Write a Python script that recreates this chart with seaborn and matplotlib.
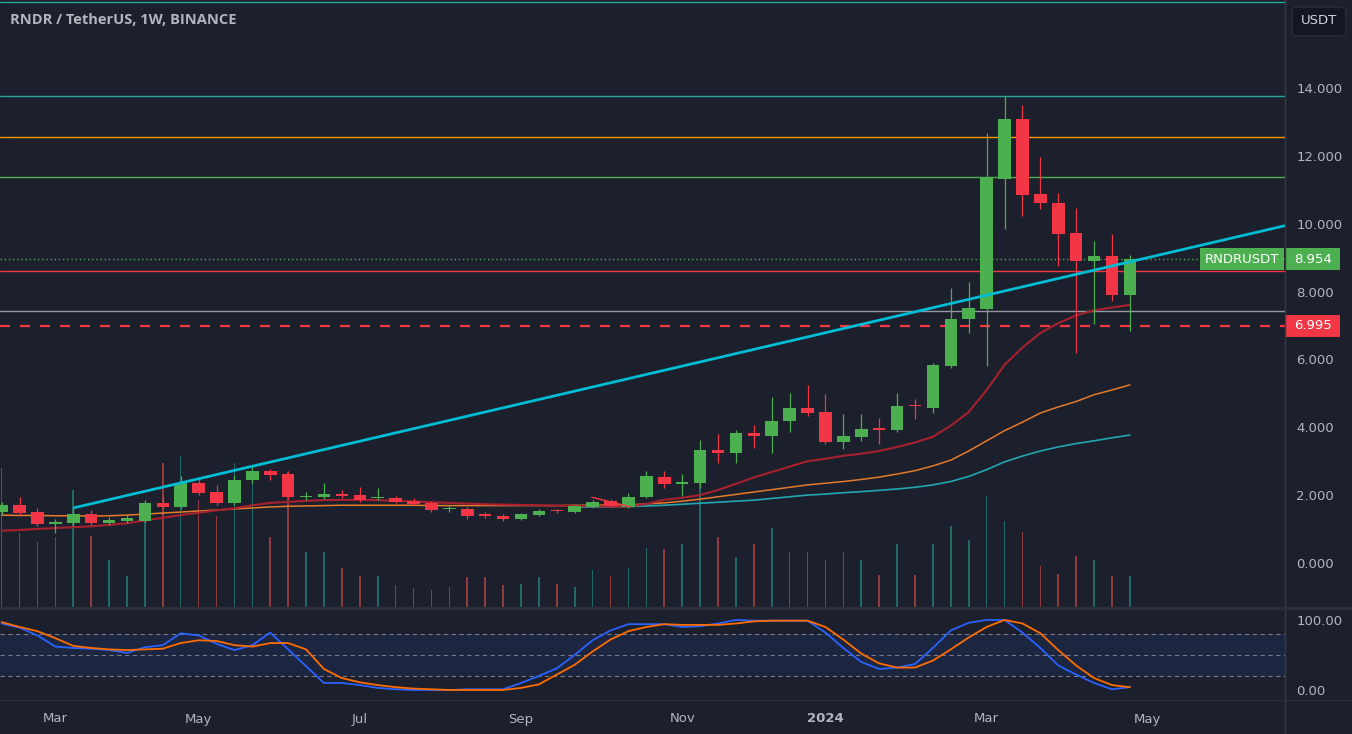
import numpy as np
import pandas as pd
import matplotlib
matplotlib.use("Agg")
import matplotlib.pyplot as plt
import matplotlib.transforms as mtransforms
from matplotlib.patches import Rectangle, FancyBboxPatch
import seaborn as sns

# ---------------- data ----------------
opens = [1.51, 1.71, 1.50, 1.16, 1.19, 1.45, 1.19, 1.24, 1.24, 1.77,
         1.66, 2.36, 2.09, 1.78, 2.43, 2.71, 2.63, 1.94, 1.93, 2.04,
         2.01, 1.90, 1.92, 1.83, 1.78, 1.59, 1.60, 1.42, 1.39, 1.30,
         1.42, 1.56, 1.51, 1.66, 1.83, 1.66, 1.93, 2.54, 2.34, 2.36,
         3.33, 3.25, 3.83, 3.75, 4.17, 4.56, 4.45, 3.57, 3.72, 3.96,
         3.92, 4.66, 4.58, 5.81, 7.18, 7.49, 11.31, 13.09, 10.88, 10.62,
         9.73, 8.91, 9.06, 7.91]
highs = [1.80, 1.93, 1.62, 1.30, 1.62, 1.55, 1.35, 1.40, 1.85, 1.95,
         2.55, 2.50, 2.30, 2.60, 2.90, 2.78, 2.70, 2.10, 2.35, 2.15,
         2.25, 2.20, 1.97, 1.90, 1.82, 1.70, 1.65, 1.50, 1.45, 1.48,
         1.60, 1.60, 1.72, 1.85, 1.88, 2.05, 2.70, 2.70, 2.63, 3.63,
         3.81, 3.93, 4.07, 4.90, 5.00, 5.25, 4.99, 4.39, 4.39, 4.27,
         5.00, 4.83, 5.90, 8.10, 8.27, 12.69, 13.78, 13.51, 11.98, 10.90,
         10.48, 9.50, 9.71, 9.07]
lows = [1.45, 1.40, 1.10, 0.88, 1.10, 1.12, 1.12, 1.18, 1.20, 1.60,
        1.60, 2.00, 1.70, 1.70, 2.35, 2.45, 1.88, 1.85, 1.88, 1.90,
        1.80, 1.85, 1.78, 1.72, 1.50, 1.50, 1.28, 1.32, 1.25, 1.27,
        1.38, 1.48, 1.48, 1.62, 1.64, 1.62, 1.90, 2.20, 1.98, 2.20,
        2.96, 2.96, 3.38, 3.25, 3.87, 4.34, 3.50, 3.35, 3.60, 3.50,
        3.85, 4.24, 4.43, 5.76, 6.79, 5.81, 9.84, 10.24, 10.43, 8.76,
        6.20, 7.04, 7.73, 6.84]
closes = [1.71, 1.48, 1.16, 1.22, 1.44, 1.19, 1.27, 1.31, 1.77, 1.66,
          2.36, 2.07, 1.78, 2.44, 2.71, 2.60, 1.93, 1.97, 2.04, 1.98,
          1.85, 1.92, 1.80, 1.74, 1.56, 1.63, 1.38, 1.39, 1.30, 1.45,
          1.54, 1.53, 1.68, 1.80, 1.68, 1.95, 2.55, 2.34, 2.40, 3.33,
          3.25, 3.83, 3.75, 4.19, 4.57, 4.42, 3.57, 3.75, 3.95, 3.93,
          4.63, 4.62, 5.84, 7.20, 7.51, 11.35, 13.09, 10.86, 10.60, 9.71,
          8.91, 9.06, 7.91, 8.954]
volumes = [140, 75, 66, 71, 118, 72, 48, 32, 90, 145,
           152, 108, 92, 145, 128, 71, 136, 56, 56, 40,
           32, 32, 23, 20, 18, 21, 31, 31, 23, 24,
           31, 24, 21, 38, 32, 40, 60, 59, 64, 128,
           71, 51, 64, 80, 56, 56, 48, 56, 48, 33,
           64, 33, 64, 82, 68, 112, 87, 76, 42, 34,
           52, 48, 32, 32]
ma_fast = [0.95, 0.97, 1.00, 1.03, 1.05, 1.08, 1.12, 1.17, 1.25, 1.33,
           1.41, 1.48, 1.55, 1.61, 1.70, 1.77, 1.80, 1.83, 1.85, 1.86,
           1.86, 1.85, 1.83, 1.81, 1.79, 1.77, 1.75, 1.73, 1.72, 1.71,
           1.70, 1.69, 1.68, 1.67, 1.66, 1.66, 1.74, 1.86, 1.92, 2.00,
           2.15, 2.33, 2.52, 2.68, 2.84, 3.00, 3.07, 3.16, 3.22, 3.30,
           3.42, 3.55, 3.72, 4.05, 4.45, 5.10, 5.84, 6.35, 6.78, 7.07,
           7.30, 7.45, 7.53, 7.61]
ma_mid = [1.41, 1.40, 1.40, 1.39, 1.39, 1.38, 1.39, 1.41, 1.44, 1.47,
          1.50, 1.53, 1.56, 1.59, 1.62, 1.65, 1.67, 1.68, 1.69, 1.70,
          1.70, 1.70, 1.70, 1.70, 1.69, 1.69, 1.69, 1.69, 1.69, 1.69,
          1.69, 1.69, 1.70, 1.70, 1.71, 1.71, 1.74, 1.77, 1.82, 1.88,
          1.95, 2.02, 2.09, 2.16, 2.23, 2.30, 2.35, 2.40, 2.46, 2.53,
          2.62, 2.72, 2.86, 3.03, 3.30, 3.60, 3.90, 4.15, 4.42, 4.60,
          4.76, 4.96, 5.10, 5.25]
ma_slow_start = 32
ma_slow = [1.64, 1.65, 1.65, 1.66, 1.68, 1.70, 1.73, 1.76, 1.79, 1.82,
           1.85, 1.90, 1.95, 2.00, 2.03, 2.07, 2.10, 2.14, 2.18, 2.23,
           2.30, 2.40, 2.55, 2.75, 2.98, 3.15, 3.30, 3.42, 3.52, 3.60,
           3.69, 3.77]
stoch_k = [95, 89, 78, 62, 60, 59, 57, 53, 61, 64,
           81, 78, 66, 57, 64, 82, 58, 34, 10, 10,
           7, 3, 1, 0, 0, 0, 1, 1, 1, 10,
           20, 31, 50, 71, 85, 94, 94, 94, 90, 91,
           95, 100, 99, 99, 99, 99, 82, 60, 40, 30,
           32, 37, 60, 85, 96, 100, 100, 82, 60, 35,
           22, 10, 1, 4]
stoch_d = [97, 90, 84, 74, 63, 60, 58, 57, 58, 59,
           67, 71, 70, 64, 62, 67, 67, 58, 30, 17,
           11, 7, 4, 2, 1, 0, 0, 0, 0, 3,
           8, 22, 36, 55, 72, 84, 90, 94, 93, 93,
           93, 95, 98, 99, 99, 99, 90, 72, 52, 38,
           32, 32, 42, 58, 75, 90, 100, 95, 81, 57,
           35, 17, 7, 4]
level_prices = [16.53, 13.78, 12.57, 11.37, 8.61, 7.44]
level_colors = ["#26a69a", "#26a69a", "#ff9800", "#4caf50", "#f23645", "#9598a1"]
trend_idx = [4.0, 71.7]
trend_price = [1.62, 9.95]
ray_idx = [32.95, 35.09]
ray_price = [1.935, 1.66]
last_price = 8.954
stop_price = 6.995
price_ticks = [0, 2, 4, 6, 8, 10, 12, 14]
month_idx = [3, 11, 20, 29, 38, 46, 55, 64]
month_labels = ["Mar", "May", "Jul", "Sep", "Nov", "2024", "Mar", "May"]
title = "RNDR / TetherUS, 1W, BINANCE"
symbol = "RNDRUSDT"
currency = "USDT"

# ---------------- style ----------------
BG = "#1c202c"
TXT = "#b2b5be"
GREEN = "#4caf50"
RED = "#f23645"
sns.set_theme(style="dark", rc={
    "figure.facecolor": BG, "axes.facecolor": BG, "savefig.facecolor": BG,
    "axes.edgecolor": BG, "axes.grid": False,
    "xtick.color": TXT, "ytick.color": TXT, "text.color": TXT,
})
plt.rcParams["font.family"] = ["DejaVu Sans"]

W, H = 1352, 734
fig = plt.figure(figsize=(W / 100, H / 100), dpi=100)
PANE_R = 1285
ax = fig.add_axes([0, (H - 608) / H, PANE_R / W, 608 / H])
ax_st = fig.add_axes([0, (H - 700) / H, PANE_R / W, 92 / H])
ax_vol = ax.twinx()
ax.set_zorder(ax_vol.get_zorder() + 1)
ax.patch.set_visible(False)

XL = (-0.089, 71.66)
idx = np.arange(len(closes))
df = pd.DataFrame({"i": idx, "o": opens, "h": highs, "l": lows, "c": closes, "v": volumes})
df["up"] = df["c"] >= df["o"]

# volume
vol_colors = np.where(df["up"], "#26a69a", "#ef5350")
ax_vol.bar(df["i"], df["v"], width=0.09, color=vol_colors, alpha=0.55, linewidth=0)
ax_vol.set_ylim(0, 608)
ax_vol.set_xlim(*XL)
ax_vol.set_yticks([])
for s in ax_vol.spines.values():
    s.set_visible(False)

# horizontal levels and drawings
for p, c in zip(level_prices, level_colors):
    ax.axhline(p, color=c, lw=1, zorder=1)
ax.axhline(last_price, color=GREEN, lw=1, ls=(0, (1, 2)), zorder=1)
ax.axhline(stop_price, color=RED, lw=1.6, ls=(0, (4.5, 4.5)), zorder=1)

# moving averages
sns.lineplot(x=idx, y=ma_mid, ax=ax, color="#e57a2a", lw=1.1, legend=False, zorder=2)
sns.lineplot(x=idx[ma_slow_start:], y=ma_slow, ax=ax, color="#23a6b3", lw=1.2, legend=False, zorder=2)
sns.lineplot(x=idx, y=ma_fast, ax=ax, color="#a8202f", lw=1.5, legend=False, zorder=2)

# candles
cols = np.where(df["up"], GREEN, RED)
ax.vlines(df["i"], df["l"], df["h"], colors=cols, lw=0.9, zorder=3)
body_lo = np.minimum(df["o"], df["c"])
body_h = np.maximum(np.abs(df["c"] - df["o"]), 0.04)
ax.bar(df["i"], body_h, bottom=body_lo, width=0.7, color=cols, linewidth=0, zorder=4)

# trend line drawings
ax.plot(trend_idx, trend_price, color="#00bcd4", lw=2, zorder=5, solid_capstyle="butt")
ax.plot(ray_idx, ray_price, color=RED, lw=1, zorder=5)

ax.set_xlim(*XL)
ax.set_ylim(-1.33, 16.6)
ax.set_xticks([])
ax.yaxis.tick_right()
ax.set_yticks(price_ticks)
ax.set_yticklabels([f"{t:.3f}" for t in price_ticks])
ax.tick_params(axis="y", length=0, pad=8, labelsize=9.5, labelcolor=TXT)
ax.set_xlabel("")
ax.set_ylabel("")
for s in ax.spines.values():
    s.set_visible(False)

# stochastic pane
ax_st.axhspan(20, 80, color="#2962ff", alpha=0.1, lw=0)
for lv in (80, 50, 20):
    ax_st.axhline(lv, color="#787b86", lw=0.8, ls=(0, (4, 3)))
sns.lineplot(x=idx, y=stoch_k, ax=ax_st, color="#2962ff", lw=1.3, legend=False)
sns.lineplot(x=idx, y=stoch_d, ax=ax_st, color="#ff6d00", lw=1.3, legend=False)
ax_st.set_xlim(*XL)
ax_st.set_ylim(-14.3, 117.1)
ax_st.yaxis.tick_right()
ax_st.set_yticks([0, 100])
ax_st.set_yticklabels(["0.00", "100.00"])
ax_st.tick_params(axis="y", length=0, pad=8, labelsize=9.5, labelcolor=TXT)
ax_st.set_xticks(month_idx)
ax_st.set_xticklabels(month_labels)
ax_st.tick_params(axis="x", length=0, pad=9, labelsize=9.5, labelcolor=TXT)
ax_st.get_xticklabels()[5].set_fontweight("bold")
ax_st.set_xlabel("")
ax_st.set_ylabel("")
for s in ax_st.spines.values():
    s.set_visible(False)

# separators
fig.add_artist(plt.Line2D([PANE_R / W, PANE_R / W], [0, 1], color="#363a45", lw=1))
fig.add_artist(plt.Line2D([0, 1], [(H - 608) / H] * 2, color="#2a2e39", lw=2.5))
fig.add_artist(plt.Line2D([0, 1], [(H - 700) / H] * 2, color="#2a2e39", lw=1))

# title
fig.text(10 / W, 1 - 20 / H, title, ha="left", va="center", color=TXT,
         fontsize=10.5, fontweight="bold", family=["Open Sans", "DejaVu Sans"])

# price label boxes
blend = mtransforms.blended_transform_factory(fig.transFigure, ax.transData)
bh = 22 / 33.9
def label_box(x0, x1, price, text, fc, tc="white"):
    ax.add_patch(Rectangle((x0 / W, price - bh / 2), (x1 - x0) / W, bh, transform=blend,
                           facecolor=fc, edgecolor="none", clip_on=False, zorder=10))
    ax.text((x0 + x1) / 2 / W, price, text, transform=blend, ha="center", va="center",
            color=tc, fontsize=9.5, clip_on=False, zorder=11)

label_box(1200, 1284, last_price, symbol, GREEN)
label_box(1286, 1340, last_price, f"{last_price:.3f}", GREEN)
label_box(1286, 1340, stop_price, f"{stop_price:.3f}", RED)

# currency box
fig.add_artist(FancyBboxPatch((1292 / W, 1 - 36 / H), 54 / W, 29 / H,
                              boxstyle="round,pad=0,rounding_size=0.005",
                              facecolor="#131722", edgecolor="#2a2e39", lw=1,
                              transform=fig.transFigure))
fig.text(1319 / W, 1 - 21 / H, currency, ha="center", va="center", color="#d1d4dc", fontsize=9.5)

fig.savefig("out.png", dpi=100, facecolor=BG)
